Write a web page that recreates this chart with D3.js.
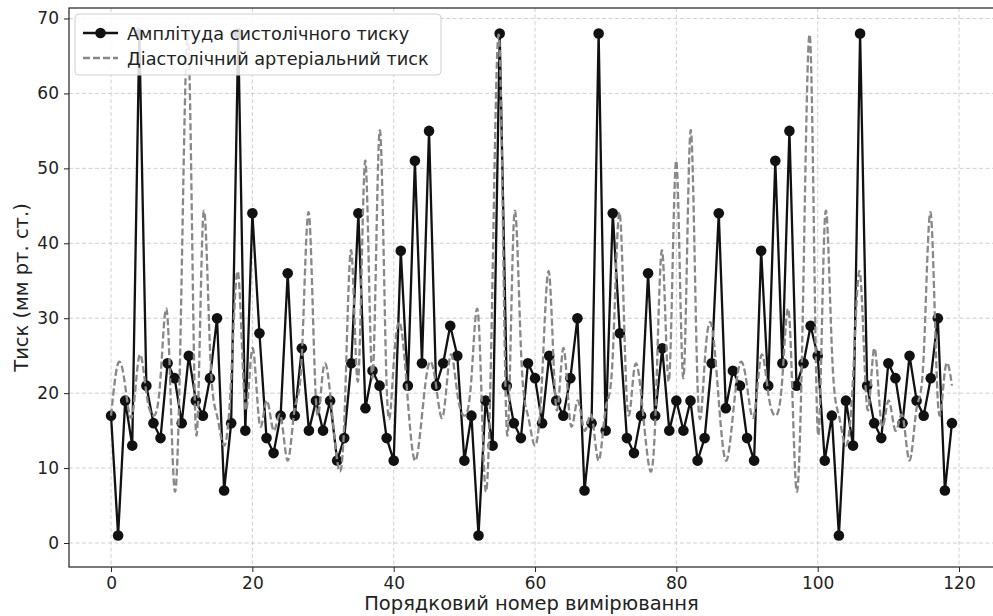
<!DOCTYPE html>
<html>
<head>
<meta charset="utf-8">
<script src="https://cdn.jsdelivr.net/npm/d3@7"></script>
<style>
  body { margin: 0; background: #fff; }
  svg { font-family: "DejaVu Sans", sans-serif; }
</style>
</head>
<body>
<div id="container"></div>
<script>
/* CONSTANTS AND GLOBALS */
const width = 993,
  height = 616;

// x range of the frame (right spine falls just outside the picture)
const plot = { left: 69, right: 994, top: 8, bottom: 567 };

/* DATA */
const seriesNames = ["Амплітуда систолічного тиску", "Діастолічний артеріальний тиск"];

// amplitude of systolic pressure, measurements 0..119
const systolic = [
  17, 1, 19, 13, 68, 21, 16, 14, 24, 22, 16, 25, 19, 17, 22, 30, 7, 16, 68, 15,
  44, 28, 14, 12, 17, 36, 17, 26, 15, 19, 15, 19, 11, 14, 24, 44, 18, 23, 21, 14,
  11, 39, 21, 51, 24, 55, 21, 24, 29, 25, 11, 17, 1, 19, 13, 68, 21, 16, 14, 24,
  22, 16, 25, 19, 17, 22, 30, 7, 16, 68, 15, 44, 28, 14, 12, 17, 36, 17, 26, 15,
  19, 15, 19, 11, 14, 24, 44, 18, 23, 21, 14, 11, 39, 21, 51, 24, 55, 21, 24, 29,
  25, 11, 17, 1, 19, 13, 68, 21, 16, 14, 24, 22, 16, 25, 19, 17, 22, 30, 7, 16
];

// diastolic pressure, measurements 0..119
const diastolic = [
  17, 24, 21, 17, 25, 20, 17, 22, 30, 7, 36, 66, 15, 43, 26, 17, 13, 22, 36, 18,
  26, 16, 19, 15, 17, 11, 18, 25, 44, 19, 23, 20, 11, 16, 39, 22, 51, 22, 55, 21,
  24, 29, 19, 11, 17, 24, 21, 17, 25, 20, 17, 22, 30, 7, 36, 66, 15, 43, 26, 17,
  13, 22, 36, 18, 26, 16, 19, 15, 17, 11, 18, 25, 44, 19, 23, 20, 11, 16, 39, 22,
  51, 22, 55, 21, 24, 29, 19, 11, 17, 24, 21, 17, 25, 20, 17, 22, 30, 7, 36, 66,
  15, 43, 26, 17, 13, 22, 36, 18, 26, 16, 19, 15, 17, 11, 18, 25, 44, 19, 23, 21
];

const xTicks = [0, 20, 40, 60, 80, 100, 120];
const yTicks = [0, 10, 20, 30, 40, 50, 60, 70];

const xLabel = "Порядковий номер вимірювання";
const yLabel = "Тиск (мм рт. ст.)";

/* SCALES */
const xScale = d3.scaleLinear()
  .domain([-5.95, 124.95])
  .range([plot.left, plot.right]);

const yScale = d3.scaleLinear()
  .domain([-3.2, 71.4])
  .range([plot.bottom, plot.top]);

/* HTML ELEMENTS */
const svg = d3.select("#container")
  .append("svg")
  .attr("width", width)
  .attr("height", height);

// grid
svg.append("g")
  .selectAll("line")
  .data(xTicks)
  .join("line")
  .attr("x1", d => xScale(d)).attr("x2", d => xScale(d))
  .attr("y1", plot.top).attr("y2", plot.bottom)
  .attr("stroke", "#c4c4c4").attr("stroke-width", 0.8)
  .attr("stroke-dasharray", "4,2.5");

svg.append("g")
  .selectAll("line")
  .data(yTicks)
  .join("line")
  .attr("x1", plot.left).attr("x2", plot.right)
  .attr("y1", d => yScale(d)).attr("y2", d => yScale(d))
  .attr("stroke", "#c4c4c4").attr("stroke-width", 0.8)
  .attr("stroke-dasharray", "4,2.5");

// x axis
const xAxis = svg.append("g")
  .attr("transform", `translate(0,${plot.bottom})`)
  .call(d3.axisBottom(xScale).tickValues(xTicks).tickSize(5).tickPadding(5));

// y axis
const yAxis = svg.append("g")
  .attr("transform", `translate(${plot.left},0)`)
  .call(d3.axisLeft(yScale).tickValues(yTicks).tickSize(5).tickPadding(5));

[xAxis, yAxis].forEach(ax => {
  ax.select(".domain").remove();
  ax.selectAll("text").attr("font-size", 17).attr("fill", "#222")
    .attr("font-family", "DejaVu Sans");
  ax.selectAll("line").attr("stroke", "#222").attr("stroke-width", 1);
});

// frame
svg.append("rect")
  .attr("x", plot.left).attr("y", plot.top)
  .attr("width", plot.right - plot.left)
  .attr("height", plot.bottom - plot.top)
  .attr("fill", "none")
  .attr("stroke", "#222").attr("stroke-width", 1.2);

// axis titles
svg.append("text")
  .attr("x", (xScale(0) + xScale(119)) / 2)
  .attr("y", 610)
  .attr("text-anchor", "middle")
  .attr("font-size", 19.5).attr("fill", "#222")
  .text(xLabel);

svg.append("text")
  .attr("transform", `translate(28,${(plot.top + plot.bottom) / 2}) rotate(-90)`)
  .attr("text-anchor", "middle")
  .attr("font-size", 19.5).attr("fill", "#222")
  .text(yLabel);

// systolic line + markers
const sysLine = d3.line()
  .x((d, i) => xScale(i))
  .y(d => yScale(d));

svg.append("path")
  .datum(systolic)
  .attr("d", sysLine)
  .attr("fill", "none")
  .attr("stroke", "#111")
  .attr("stroke-width", 2.3)
  .attr("stroke-linejoin", "round");

svg.append("g")
  .selectAll(".dot")
  .data(systolic)
  .join("circle")
  .attr("class", "dot")
  .attr("cx", (d, i) => xScale(i))
  .attr("cy", d => yScale(d))
  .attr("r", 5.3)
  .attr("fill", "#111");

// diastolic smoothed dashed line
const diaLine = d3.line()
  .x((d, i) => xScale(i))
  .y(d => yScale(d))
  .curve(d3.curveNatural);

svg.append("path")
  .datum(diastolic)
  .attr("d", diaLine)
  .attr("fill", "none")
  .attr("stroke", "#888")
  .attr("stroke-width", 2.3)
  .attr("stroke-dasharray", "7,3");

// legend
const legend = svg.append("g").attr("transform", "translate(75,14)");
legend.append("rect")
  .attr("width", 366).attr("height", 61)
  .attr("rx", 4)
  .attr("fill", "white").attr("fill-opacity", 0.85)
  .attr("stroke", "#d0d0d0");

legend.append("line")
  .attr("x1", 8).attr("x2", 43).attr("y1", 19).attr("y2", 19)
  .attr("stroke", "#111").attr("stroke-width", 2.3);
legend.append("circle")
  .attr("cx", 25.5).attr("cy", 19).attr("r", 5.3).attr("fill", "#111");

legend.append("line")
  .attr("x1", 8).attr("x2", 43).attr("y1", 44).attr("y2", 44)
  .attr("stroke", "#888").attr("stroke-width", 2.3)
  .attr("stroke-dasharray", "7,3");

legend.selectAll(".lbl")
  .data(seriesNames)
  .join("text")
  .attr("class", "lbl")
  .attr("x", 52)
  .attr("y", (d, i) => 25.5 + i * 25)
  .attr("font-size", 17.7).attr("fill", "#222")
  .text(d => d);
</script>
</body>
</html>
